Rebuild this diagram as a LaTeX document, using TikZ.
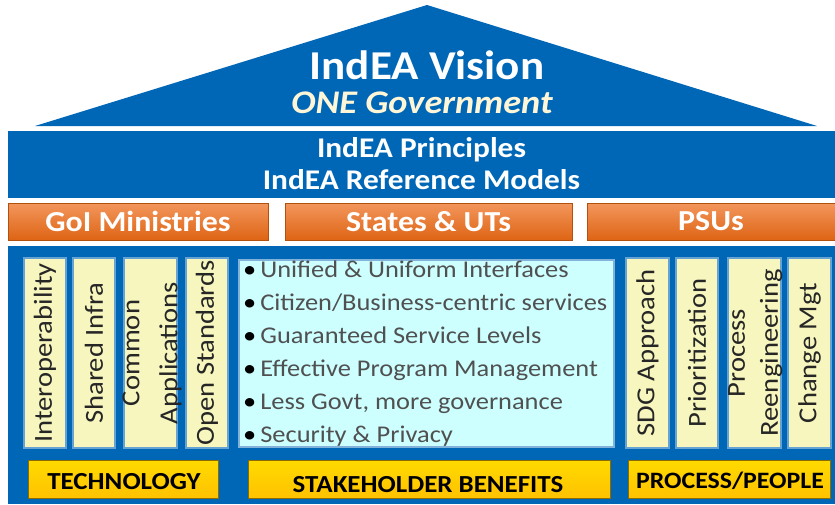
\documentclass[tikz,border=0pt]{standalone}
\usepackage{fontspec}
\setmainfont{Carlito}[FakeStretch=1.1]
\usetikzlibrary{shadings}
\definecolor{indblue}{RGB}{0,102,182}
\definecolor{indorange}{RGB}{240,124,52}
\definecolor{indorangedark}{RGB}{222,100,20}
\definecolor{indyellow}{RGB}{246,246,190}
\definecolor{indcyan}{RGB}{205,255,255}
\definecolor{indgold}{RGB}{255,194,0}
\definecolor{indcream}{RGB}{255,246,215}
\definecolor{indgray}{RGB}{80,80,80}
\tikzset{
  orangebox/.style={rectangle, inner sep=0pt, top color=indorange!80!white, bottom color=indorangedark, draw=indorangedark!80!black, line width=0.6pt, text=white, font=\fontsize{29}{30}\selectfont\bfseries},
  pillar/.style={rectangle, inner sep=0pt, fill=indyellow, draw=indblue!60!white, line width=1.2pt, minimum height=190pt, font=\fontsize{26}{27}\selectfont, text=black!85},
  goldbox/.style={rectangle, inner sep=0pt, top color=indgold!60!yellow, bottom color=indgold, draw=indgold!55!black, line width=0.8pt, minimum height=38pt},
  boxlabel/.style={inner sep=0pt, font=\fontsize{24.5}{26}\selectfont\bfseries, text=black},
}
\begin{document}
\begin{tikzpicture}[x=1pt,y=-1pt]
\useasboundingbox (0,0) rectangle (835,504);
\fill[white] (0,0) rectangle (835,504);
% roof
\fill[indblue] (427,5) -- (817,126) -- (35,126) -- cycle;
\node[text=white, font=\fontsize{41}{43}\selectfont\bfseries] (vision) at (427,65) {IndEA Vision};
\node[text=indcream, font=\fontsize{33}{35}\selectfont\bfseries\itshape] (onegov) at (422,103) {ONE Government};
% band
\node[rectangle, fill=indblue, inner sep=0pt, minimum width=827pt, minimum height=67pt, text=white, align=center, font=\fontsize{28.5}{32}\selectfont\bfseries] (band) at (421.5,164) {IndEA Principles\\IndEA Reference Models};
% orange row
\node[orangebox, minimum width=260pt, minimum height=37pt] (goi) at (138,221.5) {GoI Ministries};
\node[orangebox, minimum width=287pt, minimum height=37pt] (states) at (428.5,221.5) {States \& UTs};
\node[orangebox, minimum width=248pt, minimum height=37pt] (psu) at (711,221.5) {PSUs};
% panel
\node[rectangle, fill=indblue, inner sep=0pt, minimum width=827pt, minimum height=258pt] (panel) at (421.5,375) {};
% pillars
\node[pillar, minimum width=42pt] (interop) at (45,353) {\makebox[0pt]{\rotatebox{90}{Interoperability}}};
\node[pillar, minimum width=42pt] (shared) at (94,353) {\makebox[0pt]{\rotatebox{90}{Shared Infra}}};
\node[pillar, minimum width=53pt] (common) at (150.5,353) {\makebox[0pt]{\hspace{5pt}\rotatebox{90}{\begin{tabular}{@{}c@{}}Common\\[11pt]Applications\end{tabular}}}};
\node[pillar, minimum width=42pt] (open) at (207,353) {\makebox[0pt]{\rotatebox{90}{Open Standards}}};
\node[pillar, minimum width=43pt] (sdg) at (647.5,353) {\makebox[0pt]{\rotatebox{90}{SDG Approach}}};
\node[pillar, minimum width=42pt] (prior) at (697,353) {\makebox[0pt]{\rotatebox{90}{Prioritization}}};
\node[pillar, minimum width=53pt] (bpr) at (754.5,353) {\makebox[0pt]{\hspace{3pt}\rotatebox{90}{\begin{tabular}{@{}c@{}}Process\\[6pt]Reengineering\end{tabular}}}};
\node[pillar, minimum width=43pt] (change) at (809.5,353) {\makebox[0pt]{\rotatebox{90}{Change Mgt}}};
% benefits
\node[rectangle, fill=indcyan, draw=indblue!50!white, line width=1.2pt, inner sep=0pt, minimum width=375pt, minimum height=187pt] (benefits) at (426.5,353.5) {};
\node[anchor=north west, align=left, inner sep=0pt, text=indgray, font=\fontsize{24}{33}\selectfont] (blist) at (243,261) {%
\textcolor{black}{\textbullet}\,Unified \& Uniform Interfaces\\
\textcolor{black}{\textbullet}\,Citizen/Business-centric services\\
\textcolor{black}{\textbullet}\,Guaranteed Service Levels\\
\textcolor{black}{\textbullet}\,Effective Program Management\\
\textcolor{black}{\textbullet}\,Less Govt, more governance\\
\textcolor{black}{\textbullet}\,Security \& Privacy};
% bottom labels
\node[goldbox, minimum width=190pt] (tech) at (123,479) {};
\node[boxlabel] (techtxt) at (124,482) {TECHNOLOGY};
\node[goldbox, minimum width=362pt] (stake) at (429,479) {};
\node[boxlabel] (staketxt) at (428,485) {STAKEHOLDER BENEFITS};
\node[goldbox, minimum width=202pt] (people) at (729,479) {};
\node[boxlabel, font=\fontsize{23.5}{26}\selectfont\bfseries] (peopletxt) at (730,481) {PROCESS/PEOPLE};
\end{tikzpicture}
\end{document}
